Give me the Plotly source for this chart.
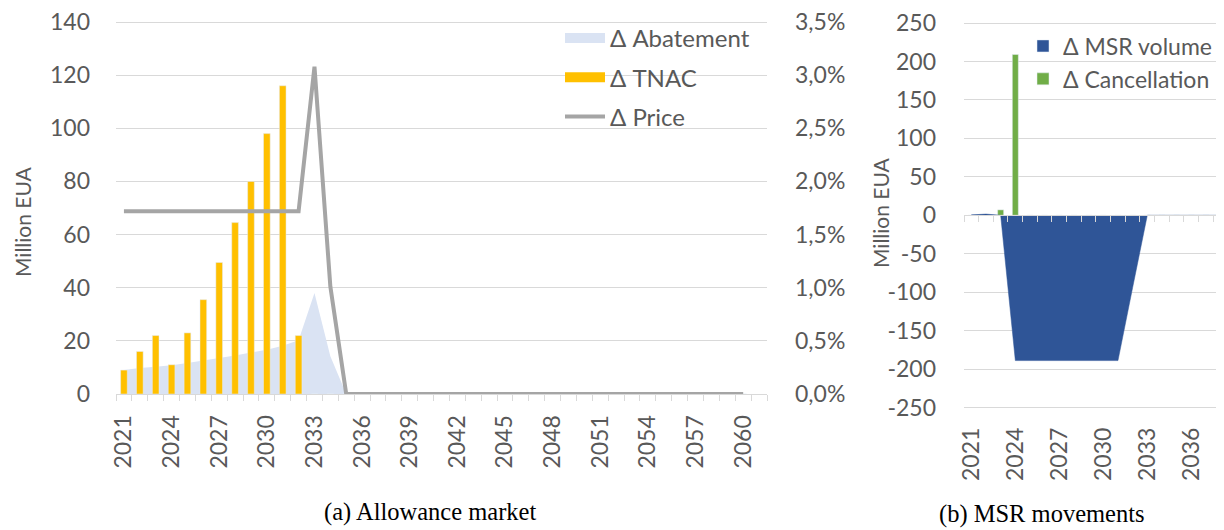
import plotly.graph_objects as go

# (a) allowance market, 2021-2060
years = list(range(2021, 2061))
tnac = [9, 16, 22, 11, 23, 35.5, 49.5, 64.5, 80, 98, 116, 22,
        0, 0, 0, 0, 0, 0, 0, 0, 0, 0, 0, 0, 0, 0, 0, 0, 0, 0,
        0, 0, 0, 0, 0, 0, 0, 0, 0, 0]
abatement = [9, 9.8, 10.3, 10.8, 11.7, 12.6, 13.5, 14.5, 15.6, 16.7, 18.2, 20.2,
             38, 14.2, 0, 0, 0, 0, 0, 0, 0, 0, 0, 0, 0, 0, 0, 0, 0, 0,
             0, 0, 0, 0, 0, 0, 0, 0, 0, 0]
price = [0.0172, 0.0172, 0.0172, 0.0172, 0.0172, 0.0172, 0.0172, 0.0172, 0.0172,
         0.0172, 0.0172, 0.0172, 0.0308, 0.0101, 0, 0, 0, 0, 0, 0,
         0, 0, 0, 0, 0, 0, 0, 0, 0, 0, 0, 0, 0, 0, 0, 0, 0, 0, 0, 0]
year_ticks_a = list(range(2021, 2061, 3))
eua_ticks = [0, 20, 40, 60, 80, 100, 120, 140]
price_ticks = [0, 0.005, 0.01, 0.015, 0.02, 0.025, 0.03, 0.035]

# (b) MSR movements
msr_years = list(range(2021, 2041))
msr_volume = [0.5, 1.5, 0, -189, -189, -189, -189, -189, -189, -189, -189, -94,
              0, 0, 0, 0, 0, 0, 0, 0]
cancellation = [0, 0, 7, 209, 0, 0, 0, 0, 0, 0, 0, 0, 0, 0, 0, 0, 0, 0, 0, 0]
year_ticks_b = list(range(2021, 2040, 3))
msr_tickvals = [-250, -200, -150, -100, -50, 0, 50, 100, 150, 200, 250]
msr_ticktext = ["-250", "-200", "-150", "-100", "-50", "0", "50", "100", "150", "200", "250"]

TXT = "#595959"
GRID = "#D9D9D9"
FONT = "Lato"
TICKF = dict(family=FONT, size=23, color=TXT)
C_ABAT, C_TNAC, C_PRICE = "#DAE3F3", "#FFC000", "#A5A5A5"
C_MSR, C_CANC = "#2F5597", "#70AD47"

# page body has an 8px margin, so the figure is sized to fit the window
W, H, OFF = 1216, 522, 8


def px(x):
    return (x - OFF) / W


def py(y):
    return 1 - (y - OFF) / H


# pixel layout: value positions and a little padding so the top gridline is kept
A_BOT, A_TOP, A_EDGE = 394, 22, 19          # 0 / 140 / plot top (left)
a_max = 140 * (A_BOT - A_EDGE) / (A_BOT - A_TOP)
B_LO, B_HI, B_TOP, B_BOT = 407.5, 23, 19, 410   # -250 / 250 / plot edges (right)
b_scale = 500 / (B_LO - B_HI)
b_range = [-250 - (B_BOT - B_LO) * b_scale, 250 + (B_HI - B_TOP) * b_scale]
b_zero = B_HI + 250 / b_scale

fig = go.Figure()

fig.add_trace(go.Scatter(
    x=years, y=abatement, name="Δ Abatement", mode="lines",
    line=dict(width=0, color=C_ABAT), fill="tozeroy", fillcolor=C_ABAT,
    xaxis="x", yaxis="y", showlegend=False))
fig.add_trace(go.Bar(
    x=years, y=tnac, name="Δ TNAC", marker_color=C_TNAC, width=0.42,
    xaxis="x", yaxis="y2", showlegend=False))
fig.add_trace(go.Scatter(
    x=years, y=price, name="Δ Price", mode="lines",
    line=dict(width=4, color=C_PRICE),
    xaxis="x", yaxis="y3", showlegend=False))

fig.add_trace(go.Scatter(
    x=msr_years, y=msr_volume, name="Δ MSR volume", mode="lines",
    line=dict(width=0.5, color=C_MSR), fill="tozeroy", fillcolor=C_MSR,
    xaxis="x3", yaxis="y4", showlegend=False))
fig.add_trace(go.Bar(
    x=msr_years, y=cancellation, name="Δ Cancellation", marker_color=C_CANC,
    width=0.41, xaxis="x2", yaxis="y4", showlegend=False))

# legend keys (Excel-style wide swatches)
for name, color, lw, grp in [("Δ Abatement", C_ABAT, 16, "a1"),
                             ("Δ TNAC", C_TNAC, 16, "a2"),
                             ("Δ Price", C_PRICE, 4, "a3")]:
    fig.add_trace(go.Scatter(
        x=[None], y=[None], name=name, mode="lines", line=dict(width=lw, color=color),
        xaxis="x", yaxis="y", legendgroup=grp, legend="legend"))
for name, color, grp in [("Δ MSR volume", C_MSR, "b1"), ("Δ Cancellation", C_CANC, "b2")]:
    fig.add_trace(go.Bar(
        x=[None], y=[None], name=name, marker_color=color,
        xaxis="x2", yaxis="y4", legendgroup=grp, legend="legend2"))

minor_ticks = dict(ticks="outside", ticklen=6, tickcolor=GRID, dtick=1,
                   tick0=2020.5, showgrid=False)

fig.update_layout(
    width=W, height=H,
    margin=dict(l=0, r=0, t=0, b=0, autoexpand=False),
    paper_bgcolor="white", plot_bgcolor="white",
    separators=", ",
    barmode="overlay",
    font=dict(family=FONT, color=TXT),
    xaxis=dict(
        domain=[px(116), px(767)], range=[2020.5, 2061.5], anchor="y",
        tickmode="array", tickvals=year_ticks_a, tickangle=-90,
        tickfont=TICKF, ticks="", ticklabelstandoff=11, ticklabeloverflow="allow",
        showgrid=False, zeroline=False, showline=True, linecolor=GRID, linewidth=1,
        minor=minor_ticks),
    yaxis=dict(
        domain=[py(A_BOT), py(A_EDGE)], range=[0, a_max], tickmode="array",
        tickvals=eua_ticks, anchor="x", tickfont=TICKF, ticks="",
        ticklabelstandoff=25, ticklabeloverflow="allow",
        showgrid=True, gridcolor=GRID, gridwidth=1, zeroline=False),
    yaxis2=dict(
        range=[0, a_max], overlaying="y", anchor="x", visible=False,
        showgrid=False, zeroline=False),
    yaxis3=dict(
        range=[0, 0.035 * a_max / 140], overlaying="y", anchor="x", side="right",
        tickmode="array", tickvals=price_ticks,
        tickformat=".1%", tickfont=TICKF, ticks="", ticklabeloverflow="allow",
        ticklabelstandoff=27, showgrid=False, zeroline=False),
    xaxis2=dict(
        domain=[px(964), 1.0], range=[2020.5, 2038.23], anchor="y4",
        tickmode="array", tickvals=year_ticks_b, tickangle=-90,
        tickfont=TICKF, ticks="", ticklabelstandoff=12, ticklabeloverflow="allow",
        showgrid=False, zeroline=False, showline=False),
    xaxis3=dict(
        range=[2020.5, 2038.23], overlaying="x2", anchor="free", position=py(b_zero),
        showticklabels=False, ticks="", showgrid=False, zeroline=False,
        showline=True, linecolor=GRID, linewidth=1, minor=minor_ticks),
    yaxis4=dict(
        domain=[py(B_BOT), py(B_TOP)], range=b_range, anchor="x2",
        tickmode="array", tickvals=msr_tickvals, ticktext=msr_ticktext,
        tickfont=TICKF, ticks="", ticklabelstandoff=27, ticklabeloverflow="allow",
        showgrid=True, gridcolor=GRID, gridwidth=1, zeroline=False),
    legend=dict(
        x=px(560), y=py(16), xanchor="left", yanchor="top",
        font=dict(family=FONT, size=24, color=TXT), bgcolor="rgba(0,0,0,0)",
        traceorder="grouped", tracegroupgap=5, itemwidth=40),
    legend2=dict(
        x=px(1023), y=py(24.5), xanchor="left", yanchor="top",
        font=dict(family=FONT, size=23, color=TXT), bgcolor="rgba(0,0,0,0)",
        traceorder="grouped", tracegroupgap=0),
    annotations=[
        dict(text="Million EUA", x=px(22), y=py(222), xref="paper", yref="paper",
             textangle=-90, showarrow=False, xanchor="center", yanchor="middle",
             font=dict(family=FONT, size=21, color=TXT)),
        dict(text="Million EUA", x=px(880), y=py(213), xref="paper", yref="paper",
             textangle=-90, showarrow=False, xanchor="center", yanchor="middle",
             font=dict(family=FONT, size=21, color=TXT)),
        dict(text="(a) Allowance market", x=px(430), y=py(512),
             xref="paper", yref="paper", showarrow=False,
             xanchor="center", yanchor="middle",
             font=dict(family="Liberation Serif", size=24.5, color="black")),
        dict(text="(b) MSR movements", x=px(1042), y=py(514),
             xref="paper", yref="paper", showarrow=False,
             xanchor="center", yanchor="middle",
             font=dict(family="Liberation Serif", size=24.5, color="black")),
    ],
)

fig.write_html("out.html")
